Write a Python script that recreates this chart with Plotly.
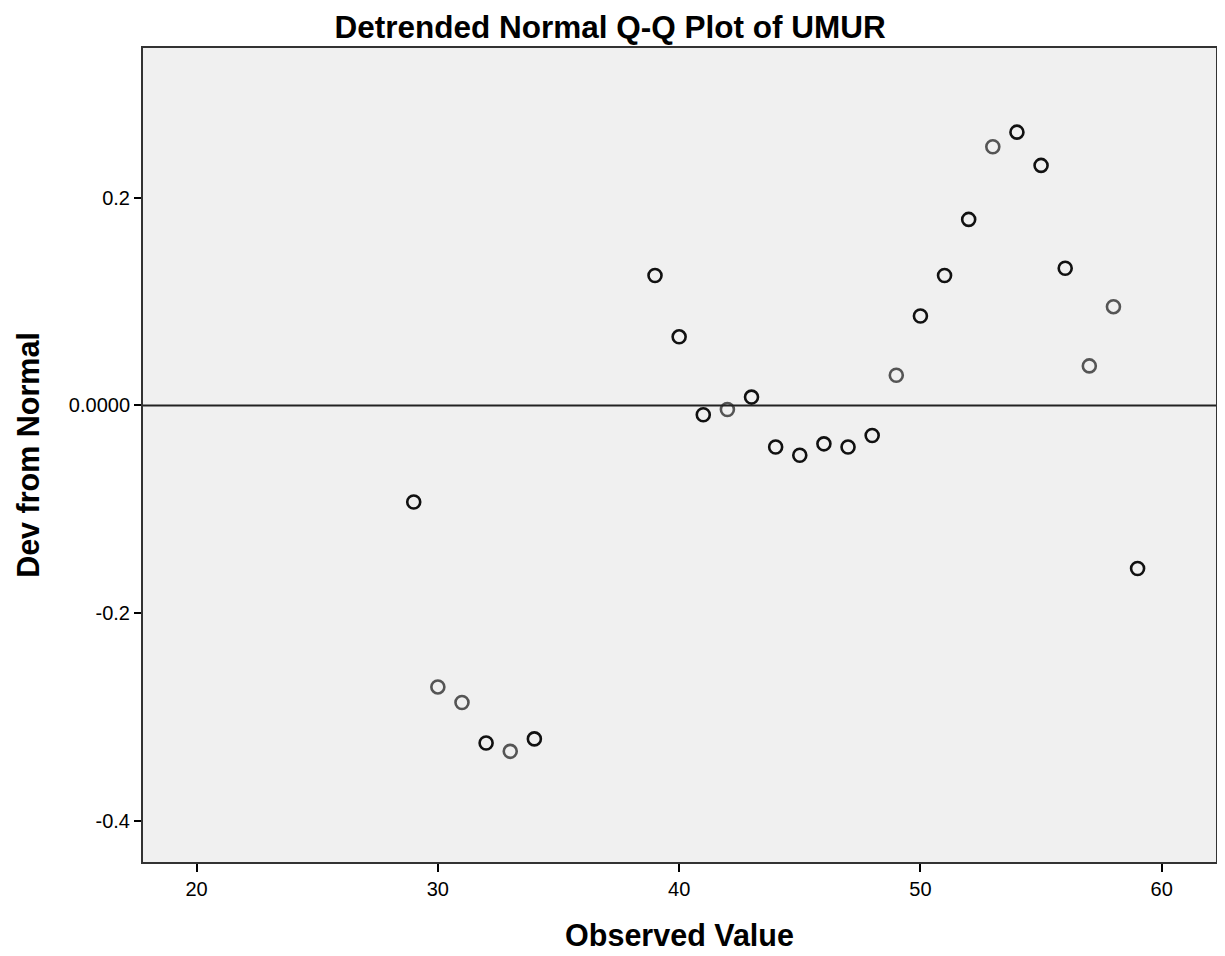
import plotly.graph_objects as go

# Data
observed = [29, 30, 31, 32, 33, 34, 39, 40, 41, 42, 43, 44, 45, 46, 47, 48,
            49, 50, 51, 52, 53, 54, 55, 56, 57, 58, 59]
dev_from_normal = [-0.093, -0.271, -0.286, -0.325, -0.333, -0.321, 0.125, 0.066,
                   -0.009, -0.004, 0.008, -0.040, -0.048, -0.037, -0.040, -0.029,
                   0.029, 0.086, 0.125, 0.179, 0.249, 0.263, 0.231, 0.132, 0.038,
                   0.095, -0.157]
# points drawn darker in the reference (overlapping cases)
dark_points = [29, 32, 34, 39, 40, 41, 43, 44, 45, 46, 47, 48, 50, 51, 52, 54, 55, 56, 59]

y_tickvals = [0.2, 0.0, -0.2, -0.4]
y_ticktext = ["0.2", "0.0000", "-0.2", "-0.4"]
x_tickvals = [20, 30, 40, 50, 60]

colors = ["#111111" if x in dark_points else "#555555" for x in observed]

fig = go.Figure()
fig.add_trace(go.Scatter(
    x=observed, y=dev_from_normal, mode="markers",
    marker=dict(symbol="circle-open", size=13, color=colors,
                line=dict(width=2.6, color=colors)),
    showlegend=False, hoverinfo="x+y"))

fig.add_hline(y=0, line=dict(color="#222222", width=2))

font = "Liberation Sans, Arial, sans-serif"
fig.update_layout(
    width=1217, height=948,
    paper_bgcolor="white", plot_bgcolor="#F0F0F0",
    margin=dict(l=135, r=7, t=40, b=94),
    title=dict(text="<b>Detrended Normal Q-Q Plot of UMUR</b>", x=0.4947, xref="container",
               xanchor="center", y=0.98, yref="container", yanchor="middle",
               font=dict(family=font, size=31.5, color="black")),
    font=dict(family=font, color="black"),
)
fig.update_xaxes(
    range=[17.78, 62.25], tickvals=x_tickvals, showgrid=False, zeroline=False,
    showline=True, linecolor="#333333", linewidth=2, mirror=True,
    ticks="outside", ticklen=8, tickcolor="black", tickwidth=2,
    tickfont=dict(family=font, size=20, color="black"),
    title=dict(text="<b>Observed Value</b>", standoff=26,
               font=dict(family=font, size=30.5, color="black")))
fig.update_yaxes(
    range=[-0.4395, 0.344], tickvals=y_tickvals, ticktext=y_ticktext,
    showgrid=False, zeroline=False,
    showline=True, linecolor="#333333", linewidth=2, mirror=True,
    ticks="outside", ticklen=7, tickcolor="black", tickwidth=2,
    tickfont=dict(family=font, size=20, color="black"),
    title=dict(text="<b>Dev from Normal</b>", standoff=20,
               font=dict(family=font, size=30.5, color="black")))

fig.write_html("out.html")
